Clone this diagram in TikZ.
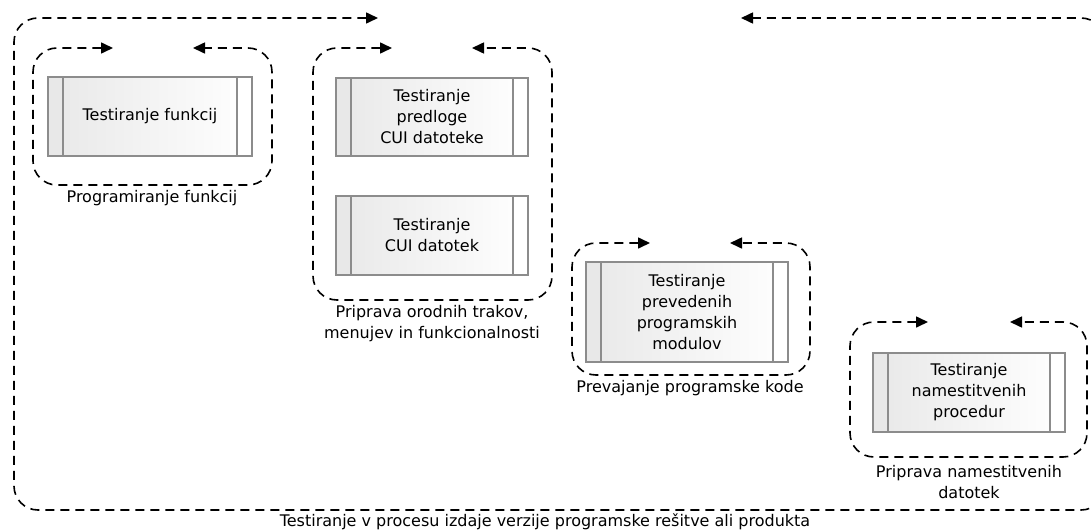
\documentclass[tikz,border=0pt]{standalone}
\usepackage{fontspec}
\setmainfont{DejaVu Sans}
\usepackage{tikz}
\usetikzlibrary{arrows.meta}
\tikzset{loop it/.style={line width=1.6pt, dash pattern=on 9pt off 6pt, rounded corners=24pt,
    {Triangle[length=12pt,width=11pt]}-{Triangle[length=12pt,width=11pt]}}}
\tikzset{lbl/.style={font=\fontsize{16}{21}\selectfont, align=center, inner sep=0pt}}
\tikzset{proc/.style={draw=black!45, line width=1.6pt, left color=black!9, right color=white,
    font=\fontsize{16}{21}\selectfont, align=center, inner sep=0pt, minimum height=79pt,
    path picture={
      \fill[black!9] (path picture bounding box.north west) rectangle ([xshift=15pt]path picture bounding box.south west);
      \fill[white] ([xshift=-15pt]path picture bounding box.north east) rectangle (path picture bounding box.south east);
      \draw[black!45, line width=1.6pt] ([xshift=15pt]path picture bounding box.north west) -- ([xshift=15pt]path picture bounding box.south west);
      \draw[black!45, line width=1.6pt] ([xshift=-15pt]path picture bounding box.north east) -- ([xshift=-15pt]path picture bounding box.south east);
    }}}

\begin{document}
\begin{tikzpicture}[x=1pt,y=-1pt]
\useasboundingbox (0,0) rectangle (1091,530);

% outer loop
\draw[loop it, rounded corners=24pt] (378,18) -| (14,510) -| (1105,18) -- (741,18);
\node[lbl] (outer) at (545,522) {Testiranje v procesu izdaje verzije programske rešitve ali produkta};

% programiranje
\draw[loop it] (113,48) -| (33,185) -| (272,48) -- (193,48);
\node[proc, minimum width=204pt] (funkcij) at (150,116.5) {Testiranje funkcij};
\node[lbl] (prog) at (152,198) {Programiranje funkcij};

% orodni trakovi
\draw[loop it] (392,48) -| (313,300) -| (552,48) -- (472,48);
\node[proc, minimum width=192pt, minimum height=78pt] (predloge) at (432,117) {Testiranje\\predloge\\CUI datoteke};
\node[proc, minimum width=192pt] (cui) at (432,235.5) {Testiranje\\CUI datotek};
\node[lbl] (trakovi) at (432,323.5) {Priprava orodnih trakov,\\menujev in funkcionalnosti};

% prevajanje
\draw[loop it] (650,243) -| (572,375) -| (810,243) -- (730,243);
\node[proc, minimum width=202pt, minimum height=100pt] (moduli) at (687,312) {Testiranje\\prevedenih\\programskih\\modulov};
\node[lbl] (prevajanje) at (690,388) {Prevajanje programske kode};

% namestitev
\draw[loop it] (928,322) -| (850,457) -| (1087,322) -- (1010,322);
\node[proc, minimum width=192pt] (procedure) at (969,392.5) {Testiranje\\namestitvenih\\procedur};
\node[lbl] (namestitev) at (969,482.5) {Priprava namestitvenih\\datotek};
\end{tikzpicture}
\end{document}
